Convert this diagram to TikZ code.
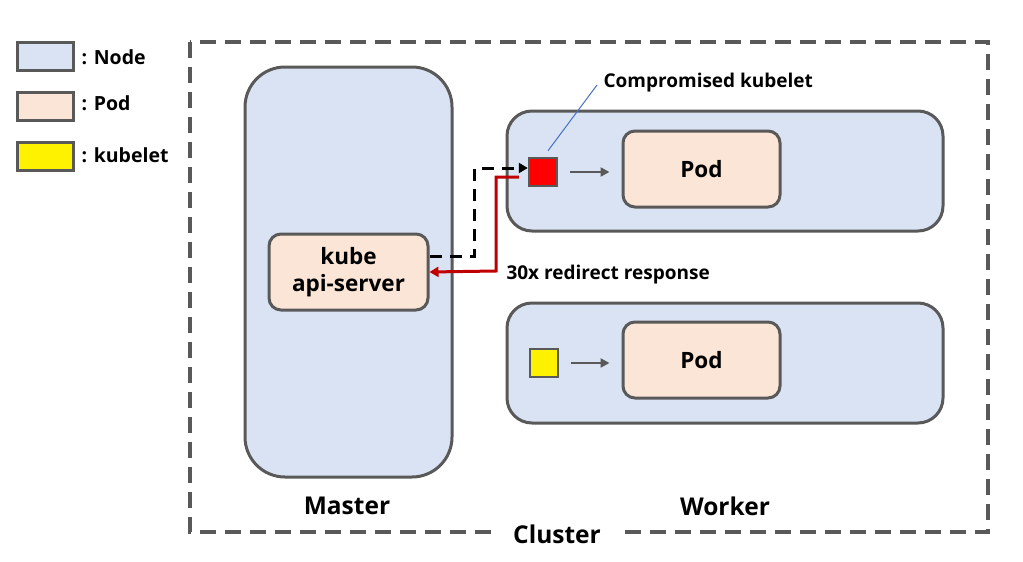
\documentclass[tikz,border=0pt]{standalone}
\usepackage{fontspec}
\setmainfont{Open Sans}
\usetikzlibrary{arrows.meta,calc}
\definecolor{nodefill}{HTML}{DAE3F3}
\definecolor{podfill}{HTML}{FBE5D6}
\definecolor{edgegray}{HTML}{595959}
\definecolor{darkred}{HTML}{C00000}
\definecolor{linkblue}{HTML}{4472C4}
\tikzset{
	knode/.style={draw=edgegray, fill=nodefill, line width=3pt, rounded corners=#1},
	kpod/.style={draw=edgegray, fill=podfill, line width=3pt, rounded corners=12pt, minimum width=157pt, minimum height=76pt, font=\bfseries\fontsize{22.5}{27}\selectfont, align=center},
	kubelet/.style={draw=edgegray, fill=#1, line width=2.5pt, minimum size=28pt, inner sep=0pt},
	legendbox/.style={draw=edgegray, fill=#1, line width=3pt, minimum width=56pt, minimum height=28pt, inner sep=0pt},
	legendtext/.style={anchor=west, font=\bfseries\fontsize{19.5}{23}\selectfont},
	biglabel/.style={font=\bfseries\fontsize{24.5}{29}\selectfont},
}
\begin{document}
\begin{tikzpicture}[x=1pt, y=-1pt]
	\useasboundingbox[fill=white] (0,0) rectangle (1023,562);
	%legend
		\node (lnode) at (45,56) [legendbox=nodefill]{};
		\node (lpod) at (45,106) [legendbox=podfill]{};
		\node (lkub) at (45,156) [legendbox=yellow]{};
		\node at (78,57) [legendtext]{: Node};
		\node at (78,103) [legendtext]{: Pod};
		\node at (78,155) [legendtext]{: kubelet};
	%cluster
		\draw[edgegray, line width=3.5pt, dash pattern=on 16pt off 9pt] (190,42) rectangle (988,532);
		\node (cluster) at (557,534) [biglabel, fill=white, inner xsep=22pt, inner ysep=2pt]{Cluster};
	%master
		\node (master) at (348.5,272) [knode=40pt, minimum width=207pt, minimum height=410pt]{};
		\node (api) at (348.5,272) [kpod, minimum width=159pt]{kube\\api-server};
		\node at (347,506) [biglabel]{Master};
	%workers
		\node (work1) at (725,171) [knode=25pt, minimum width=436pt, minimum height=120pt]{};
		\node (work2) at (725,363) [knode=25pt, minimum width=436pt, minimum height=120pt]{};
		\node (pod1) at (701.5,169) [kpod]{Pod};
		\node (pod2) at (701.5,360) [kpod]{Pod};
		\node (kub1) at (543,172) [kubelet=red]{};
		\node (kub2) at (544,363) [kubelet=yellow]{};
		\node at (725,506) [biglabel]{Worker};
		\draw[edgegray, line width=2.5pt, -{Triangle[length=9pt,width=9pt]}, shorten <=12pt, shorten >=12pt] (kub1.east) -- (kub1.east -| pod1.west);
		\draw[edgegray, line width=2.5pt, -{Triangle[length=9pt,width=9pt]}, shorten <=12pt, shorten >=12pt] (kub2.east) -- (kub2.east -| pod2.west);
	%requests
		\draw[black, line width=3pt, dash pattern=on 12pt off 8pt, -{Triangle[length=9pt,width=10pt]}] ($(api.east)+(0,-16)$) -- (474,256) -- (474,168) -- ($(kub1.west)+(0,-4)$);
		\draw[darkred, line width=3pt, -{Triangle[length=9pt,width=10pt]}] ($(kub1.west)+(-9,5)$) -- (496,177) -- (496,271) -- (api.east);
		\node (redir) at (503,275) [legendtext, font=\bfseries\fontsize{19}{23}\selectfont]{30x redirect response};
	%compromised label
		\node (comp) at (600,83) [legendtext, font=\bfseries\fontsize{19}{23}\selectfont]{Compromised kubelet};
		\draw[linkblue, line width=1pt] ($(kub1.north)+(5,-6)$) -- (597,85);
\end{tikzpicture}
\end{document}
